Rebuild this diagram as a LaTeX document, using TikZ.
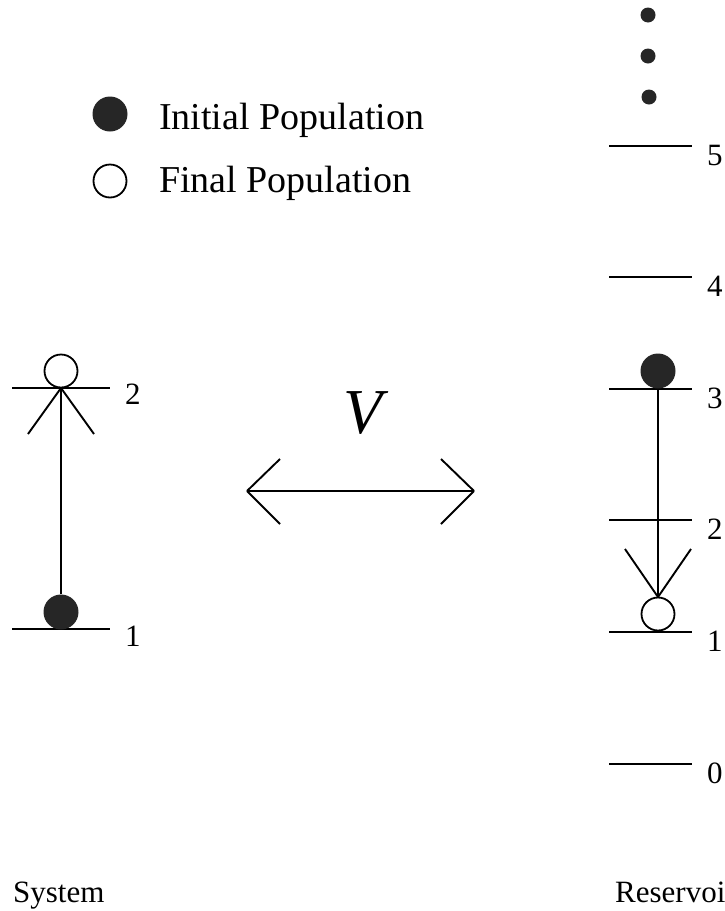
\documentclass[tikz,border=0pt]{standalone}
\usepackage{fontspec}
\setmainfont{Liberation Serif}
\begin{document}
\begin{tikzpicture}[x=1pt,y=-1pt,
  lvl/.style={line width=2.4pt},
  arr/.style={line width=1.9pt},
  fillc/.style={circle,fill=black!85,minimum size=35pt,inner sep=0pt},
  openc/.style={circle,draw,line width=1.8pt,minimum size=33pt,inner sep=0pt},
  dotc/.style={circle,fill=black!85,minimum size=15pt,inner sep=0pt},
  lab/.style={font=\fontsize{31}{36}\selectfont,anchor=base west,inner sep=0pt},
  leg/.style={font=\fontsize{38}{44}\selectfont,anchor=base west,inner sep=0pt},
  ttl/.style={font=\fontsize{31}{36}\selectfont,anchor=base west,inner sep=0pt}]
\useasboundingbox (0,0) rectangle (724,911);
% legend
\node[fillc] (lf) at (110,114) {};
\node[openc] (lo) at (110,181) {};
\node[leg] (lt1) at (159,129) {Initial Population};
\node[leg] (lt2) at (159,192) {Final Population};
% system levels
\draw[lvl] (12,388) coordinate (s2a) -- (110,388) coordinate (s2b);
\draw[lvl] (12,629) coordinate (s1a) -- (110,629) coordinate (s1b);
\node[lab] (sl2) at (125,404) {2};
\node[lab] (sl1) at (125,646) {1};
\node[openc] (so) at (61,371) {};
\node[fillc] (sf) at (61,612) {};
\coordinate (stip) at (61,388);
\draw[arr] (sf.north) -- (stip);
\draw[arr] (stip) -- ++(-33,46);
\draw[arr] (stip) -- ++(33,46);
% coupling arrow
\coordinate (va) at (247,491);
\coordinate (vb) at (474,491);
\draw[arr] (va) -- (vb);
\draw[arr] (va) -- ++(33,-32);
\draw[arr] (va) -- ++(33,33);
\draw[arr] (vb) -- ++(-33,-32);
\draw[arr] (vb) -- ++(-33,33);
\node[font=\fontsize{64}{70}\selectfont\itshape,inner sep=0pt] (vl) at (363,413) {V};
% reservoir
\node[dotc] (d1) at (648,15) {};
\node[dotc] (d2) at (648,56) {};
\node[dotc] (d3) at (649,97) {};
\foreach \y/\n in {146/5,277/4,389/3,520/2,632/1,764/0}{
  \draw[lvl] (609,\y) -- (692,\y);
  \node[lab] (rl\n) at (707,\y+19) {\n};
}
\node[fillc] (rf) at (658,371) {};
\node[openc] (ro) at (658,614) {};
\coordinate (rtip) at (658,597);
\draw[arr] (rf.south) -- (rtip);
\draw[arr] (rtip) -- ++(-33,-48);
\draw[arr] (rtip) -- ++(33,-48);
% titles
\node[ttl] (sys) at (13,902) {System};
\node[ttl] (res) at (615,902) {Reservoir};
\end{tikzpicture}
\end{document}
